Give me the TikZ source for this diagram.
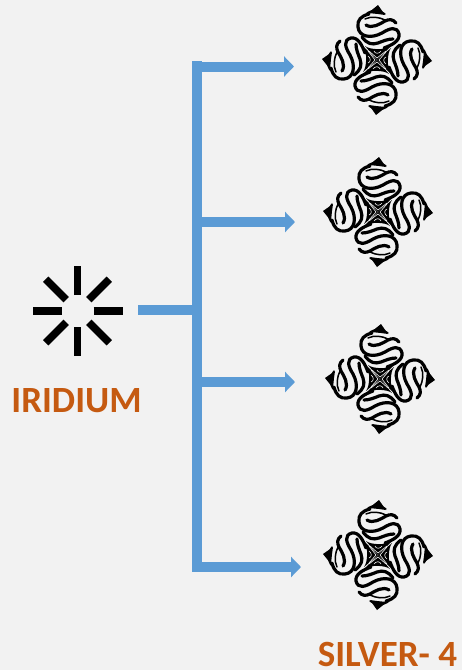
\documentclass[tikz,border=0pt]{standalone}
\usepackage{fontspec}
\setmainfont{Carlito}
\usetikzlibrary{arrows.meta}
\definecolor{feedblue}{HTML}{5B9BD5}
\definecolor{labelorange}{HTML}{C55A11}
\definecolor{pagegray}{HTML}{F2F2F2}
\tikzset{
    feed/.style={draw=feedblue, line width=10pt},
    branch/.style={feed, -{Triangle[length=10pt, width=20pt]}},
    metal/.style={text=labelorange, font=\fontsize{37}{38}\selectfont\bfseries, inner sep=0pt, anchor=base},
    spoke/.style={line width=7.5pt, black},
    strand/.style={black, line width=3.2pt, line cap=round},
    thinstrand/.style={black, line width=1.5pt, line cap=round},
    helix/.pic={
        \foreach \ang in {0, 90, 180, 270} {
            \begin{scope}[rotate=\ang]
                \draw[strand] (-8,-46) .. controls (-16,-44) and (-20,-40) .. (-19,-33) .. controls (-18,-23) and (-6,-21) .. (5,-27) .. controls (13,-32) and (20,-34) .. (22,-26) .. controls (23,-19) and (15,-15) .. (7,-12);
                \draw[strand] (-11,-35) .. controls (-5,-31) and (3,-36) .. (8,-39) .. controls (12,-41) and (16,-41) .. (19,-37);
                \draw[thinstrand] (-12,-41) .. controls (-6,-44) and (2,-43) .. (8,-40);
                \draw[strand] (-15,-23) .. controls (-10,-16) and (-5,-15) .. (1,-17) .. controls (6,-19) and (11,-21) .. (16,-21);
                \fill[black] (-9,-47) -- (1,-55) -- (8,-45) -- (1,-46) -- cycle;
                \draw[thinstrand] (-10,-47) .. controls (-3,-51) and (3,-50) .. (8,-46);
                \fill[black] (0,0) -- (-12,-14) .. controls (-7,-10) and (7,-10) .. (13,-13) -- cycle;
                \draw[pagegray, line width=.6pt] (-8,-9) -- (0,-2) -- (9,-9);
                \draw[pagegray, line width=.6pt] (-3,-9) .. controls (-2,-6) and (2,-6) .. (4,-9);
            \end{scope}
        }
    }
}
\begin{document}
\begin{tikzpicture}[x=1pt, y=-1pt]
    \fill[pagegray] (0, 0) rectangle (462, 670);
    % spinner on the left
    \begin{scope}[shift={(77.5, 311)}]
        \foreach \ang in {0, 45, ..., 315}
            \draw[spoke] (\ang:16) -- (\ang:45);
    \end{scope}
    \path (76.5, 412) node[metal](iridium) {IRIDIUM} (387.5, 666.5) node[metal](silver) {SILVER- 4};
    \path (377, 60) pic {helix} (378, 212) pic {helix} (380, 379) pic {helix} (378, 555) pic {helix};
    \path (138, 310) coordinate(stub) (197, 310) coordinate(hub) (197, 61) coordinate(top) (197, 572) coordinate(bottom);
    \path (192, 66.5) coordinate(from1) (197, 222) coordinate(from2) (197, 382) coordinate(from3) (192, 567) coordinate(from4);
    \path (294, 66.5) coordinate(to1) (295, 222) coordinate(to2) (295, 382) coordinate(to3) (301, 567) coordinate(to4);
    \draw[feed] (stub) -- (hub);
    \draw[feed] (top) -- (bottom);
    \draw[branch] (from1) -- (to1);
    \draw[branch] (from2) -- (to2);
    \draw[branch] (from3) -- (to3);
    \draw[branch] (from4) -- (to4);
\end{tikzpicture}
\end{document}
